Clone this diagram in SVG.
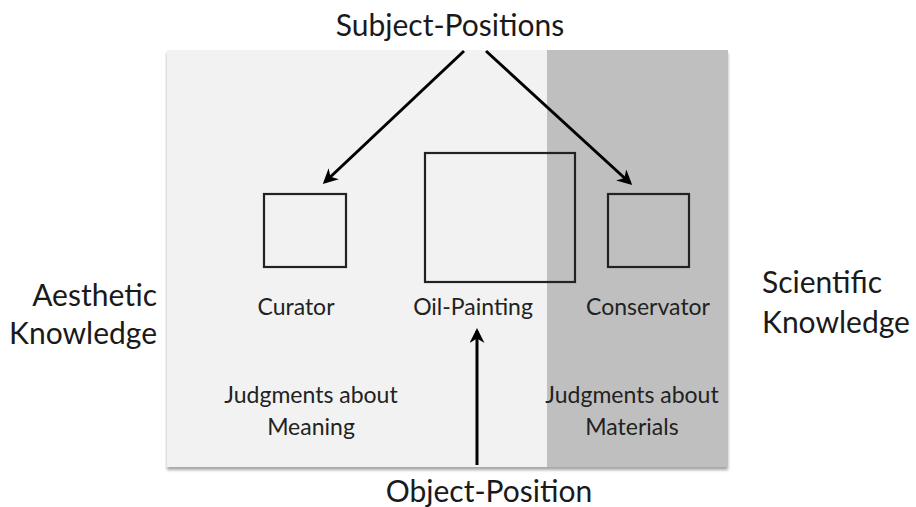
<svg xmlns="http://www.w3.org/2000/svg" width="916" height="507" viewBox="0 0 916 507">
<style>
.big{font-family:Lato,"Open Sans","Liberation Sans",sans-serif;font-size:30px;fill:#1a1a1a}
.lbl{font-family:Lato,"Open Sans","Liberation Sans",sans-serif;font-size:23px;fill:#222}
.box{fill:none;stroke:#222;stroke-width:2.2}
.conn{stroke:#000;stroke-width:3;fill:none;marker-end:url(#ah)}
</style>
<defs>
<marker id="ah" viewBox="0 0 10 10" refX="8" refY="5" markerWidth="5" markerHeight="5" orient="auto" markerUnits="strokeWidth">
<path d="M0,0 L10,5 L0,10 L3,5 Z" fill="#000"/>
</marker>
<filter id="sh" x="-5%" y="-5%" width="110%" height="110%">
<feDropShadow dx="0" dy="3" stdDeviation="1.5" flood-color="#000" flood-opacity="0.35"/>
</filter>
</defs>
<rect width="916" height="507" fill="#fff"/>
<g id="panels" filter="url(#sh)">
<rect x="167" y="50" width="381" height="417" fill="#f2f2f2"/>
<rect x="547" y="50" width="181" height="417" fill="#bfbfbf"/>
</g>
<g id="curator"><rect class="box" x="264" y="194" width="82" height="73"/><text class="lbl" x="296" y="315" text-anchor="middle">Curator</text></g>
<g id="oil-painting"><rect class="box" x="425" y="153" width="150" height="129"/><text class="lbl" x="473" y="315" text-anchor="middle">Oil-Painting</text></g>
<g id="conservator"><rect class="box" x="608" y="194" width="81" height="73"/><text class="lbl" x="648" y="315" text-anchor="middle">Conservator</text></g>
<g id="subject-positions"><text class="big" x="450" y="36" text-anchor="middle">Subject-Positions</text></g>
<g id="object-position"><text class="big" x="489" y="502" text-anchor="middle">Object-Position</text></g>
<g id="aesthetic"><text class="big" text-anchor="end"><tspan x="157" y="306">Aesthetic</tspan><tspan x="157" y="344">Knowledge</tspan></text></g>
<g id="scientific"><text class="big"><tspan x="762" y="293">Scientific</tspan><tspan x="762" y="333">Knowledge</tspan></text></g>
<g id="meaning"><text class="lbl" text-anchor="middle"><tspan x="311" y="403">Judgments about</tspan><tspan x="311" y="435">Meaning</tspan></text></g>
<g id="materials"><text class="lbl" text-anchor="middle"><tspan x="632" y="403">Judgments about</tspan><tspan x="632" y="435">Materials</tspan></text></g>
<g id="connectors">
<line class="conn" x1="464" y1="51" x2="325" y2="182"/>
<line class="conn" x1="486" y1="51" x2="630" y2="183"/>
<line class="conn" x1="477" y1="465" x2="477" y2="331"/>
</g>
</svg>
